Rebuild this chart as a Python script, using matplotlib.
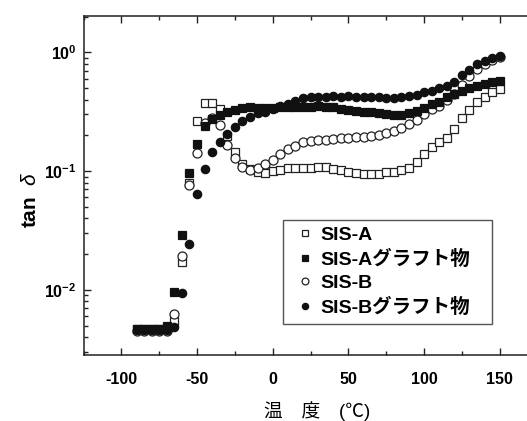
import numpy as np
import matplotlib
matplotlib.use("Agg")
import matplotlib.pyplot as plt
from matplotlib.ticker import MultipleLocator, LogLocator, NullFormatter

plt.rcParams['font.family'] = ['Liberation Sans', 'Noto Sans CJK JP', 'DejaVu Sans']
plt.rcParams['mathtext.fontset'] = 'custom'
plt.rcParams['mathtext.rm'] = 'Liberation Sans:bold'
plt.rcParams['mathtext.it'] = 'Liberation Sans:italic'
plt.rcParams['axes.unicode_minus'] = False

# temperature (degC)
temp = [-90, -85, -80, -75, -70, -65, -60, -55, -50, -45, -40, -35, -30, -25, -20,
        -15, -10, -5, 0, 5, 10, 15, 20, 25, 30, 35, 40, 45, 50, 55, 60, 65, 70, 75,
        80, 85, 90, 95, 100, 105, 110, 115, 120, 125, 130, 135, 140, 145, 150]

sis_a = [0.0047, 0.0047, 0.0047, 0.0047, 0.0048, 0.0055, 0.0172, 0.080, 0.263, 0.372,
         0.372, 0.330, 0.197, 0.145, 0.114, 0.104, 0.098, 0.096, 0.100, 0.102, 0.106,
         0.106, 0.107, 0.107, 0.109, 0.108, 0.104, 0.102, 0.099, 0.096, 0.094, 0.094,
         0.094, 0.098, 0.098, 0.102, 0.107, 0.119, 0.139, 0.159, 0.175, 0.189, 0.225,
         0.279, 0.326, 0.380, 0.419, 0.461, 0.489]

sis_a_graft = [0.0047, 0.0047, 0.0047, 0.0047, 0.0050, 0.0096, 0.029, 0.096, 0.169, 0.239,
               0.275, 0.297, 0.314, 0.327, 0.339, 0.345, 0.340, 0.340, 0.340, 0.345, 0.345,
               0.345, 0.345, 0.345, 0.352, 0.345, 0.345, 0.332, 0.325, 0.319, 0.313, 0.313,
               0.307, 0.301, 0.296, 0.296, 0.307, 0.319, 0.338, 0.366, 0.380, 0.419, 0.444,
               0.470, 0.498, 0.518, 0.538, 0.560, 0.571]

sis_b = [0.0045, 0.0045, 0.0045, 0.0045, 0.0045, 0.0063, 0.0194, 0.076, 0.142, 0.254,
         0.279, 0.244, 0.166, 0.129, 0.108, 0.102, 0.106, 0.114, 0.124, 0.139, 0.154,
         0.162, 0.175, 0.179, 0.182, 0.182, 0.186, 0.189, 0.189, 0.193, 0.193, 0.197,
         0.200, 0.209, 0.217, 0.230, 0.249, 0.268, 0.301, 0.332, 0.352, 0.395, 0.444,
         0.528, 0.629, 0.720, 0.793, 0.857, 0.908]

sis_b_graft = [0.0046, 0.0046, 0.0046, 0.0046, 0.0046, 0.0049, 0.0094, 0.0244, 0.064, 0.104,
               0.144, 0.175, 0.205, 0.235, 0.263, 0.284, 0.307, 0.313, 0.332, 0.352, 0.366,
               0.388, 0.410, 0.419, 0.419, 0.419, 0.427, 0.419, 0.427, 0.419, 0.419, 0.419,
               0.419, 0.410, 0.410, 0.419, 0.427, 0.440, 0.461, 0.470, 0.498, 0.518, 0.560,
               0.641, 0.706, 0.793, 0.840, 0.890, 0.926]

labels = ["SIS-A", "SIS-Aグラフト物", "SIS-B", "SIS-Bグラフト物"]

fig = plt.figure(figsize=(5.27, 4.21), dpi=100)
ax = fig.add_axes([0.1585, 0.1568, 0.8415, 0.8052])

ec = "#222222"
ax.plot(temp, sis_a, "s", ms=6, mfc="white", mec=ec, mew=0.9, zorder=2, label=labels[0])
ax.plot(temp, sis_a_graft, "s", ms=6, mfc="#111111", mec="#111111", mew=0.9, zorder=4, label=labels[1])
ax.plot(temp, sis_b, "o", ms=6.5, mfc="white", mec=ec, mew=0.9, zorder=3, label=labels[2])
ax.plot(temp, sis_b_graft, "o", ms=6, mfc="#111111", mec="#111111", mew=0.9, zorder=5, label=labels[3])

ax.set_yscale("log")
ax.set_xlim(-125, 168)
ax.set_ylim(0.00283, 2.02)
ax.xaxis.set_major_locator(MultipleLocator(50))
ax.xaxis.set_minor_locator(MultipleLocator(25))
ax.yaxis.set_major_locator(LogLocator(base=10))
ax.yaxis.set_minor_locator(LogLocator(base=10, subs=np.arange(2, 10)))
ax.yaxis.set_minor_formatter(NullFormatter())

for s in ("left", "bottom", "top"):
    ax.spines[s].set_linewidth(1.1)
    ax.spines[s].set_color("#222222")
ax.spines["right"].set_visible(False)

ax.tick_params(which="both", direction="in", top=True, right=False, color="#222222", width=1.0)
ax.tick_params(which="major", length=5)
ax.tick_params(which="minor", length=3)
ax.tick_params(axis="x", which="major", pad=12, labelsize=11.5)
ax.tick_params(axis="y", which="major", pad=5, labelsize=11.5)
for t in ax.get_xticklabels() + ax.get_yticklabels():
    t.set_fontweight("bold")

ax.set_xlabel("温　度　(℃)", fontsize=13.5)
ax.xaxis.set_label_coords(0.527, -0.135)
ax.set_ylabel("tan  $\\it{δ}$", fontsize=15, fontweight="bold")
ax.yaxis.set_label_coords(-0.098, 0.457)

leg = ax.legend(loc="lower left", bbox_to_anchor=(0.45, 0.0914, 0.471, 0.31), mode="expand",
                fancybox=False, edgecolor="#555555", framealpha=1, markerscale=0.75,
                handlelength=1.58, handletextpad=0.0, labelspacing=0.29, borderpad=0.36,
                borderaxespad=0, prop={"size": 14, "weight": "bold"})
leg.get_frame().set_linewidth(1.0)

fig.savefig("out.png", dpi=100)
